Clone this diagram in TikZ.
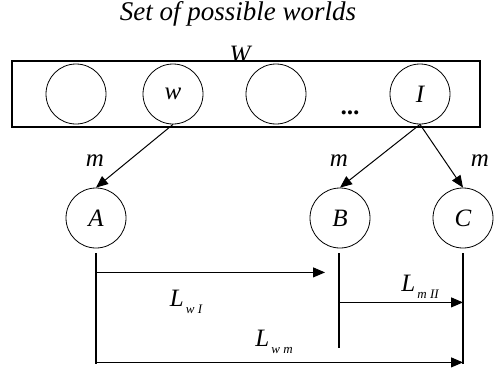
\documentclass[tikz,border=0pt]{standalone}
\usepackage{fontspec}
\setmainfont{Liberation Serif}
\usetikzlibrary{arrows.meta,positioning,calc}

\newcommand{\lsub}[1]{L{\fontsize{13}{15}\selectfont\raisebox{-7pt}{\,#1}}}

\begin{document}
\begin{tikzpicture}[x=1pt,y=-1pt,
  world/.style={shape=circle,draw,line width=0.8pt,minimum size=60pt,inner sep=0pt,font=\fontsize{25}{28}\selectfont\itshape},
  lbl/.style={font=\fontsize{25}{28}\selectfont\itshape,inner sep=1pt},
  link/.style={-{Triangle[length=12pt,width=10pt]},line width=1pt},
  bar/.style={line width=2pt}]
  \useasboundingbox (0,0) rectangle (502,369);
  % set of worlds
  \node[lbl,font=\fontsize{27}{30}\selectfont\itshape] (title) at (238,14) {Set of possible worlds};
  \node[lbl] (W) at (240,55) {W};
  \node[draw,fill=white,line width=2pt,minimum width=468pt,minimum height=66pt,inner sep=0pt] (box) at (246,94) {};
  \node[world] (w1) at (76,94) {};
  \node[world] (w2) at (173,94) {w};
  \node[world] (w3) at (276,94) {};
  \node[world] (w4) at (420,94) {I};
  \node[lbl] (dots) at (351,113) {\textbf{...}};
  % models
  \node[world] (A) at (96,218) {A};
  \node[world] (B) at (340,218) {B};
  \node[world] (C) at (463,218) {C};
  \draw[link] (w2.south) -- (A.north);
  \draw[link] (w4.south) -- (B.north);
  \draw[link] (w4.south) -- (C.north);
  \node[lbl] (mA) at (95,161) {m};
  \node[lbl] (mB) at (339,161) {m};
  \node[lbl] (mC) at (480,161) {m};
  % distances
  \coordinate (a1) at ($(A.south)+(0,5)$);
  \coordinate (a2) at ($(A.south)+(0,116)$);
  \coordinate (b1) at ($(B.south)+(-1,5)$);
  \coordinate (b2) at ($(B.south)+(-1,100)$);
  \coordinate (c1) at ($(C.south)+(0,5)$);
  \coordinate (c2) at ($(C.south)+(0,116)$);
  \draw[bar] (a1) -- (a2);
  \draw[bar] (b1) -- (b2);
  \draw[bar] (c1) -- (c2);
  \coordinate (p1) at ($(a1)+(0,19)$);
  \coordinate (q1) at ($(b1)+(-14,19)$);
  \draw[link] (p1) -- (q1);
  \coordinate (p2) at ($(b1)+(0,49)$);
  \coordinate (q2) at ($(c1)+(0,49)$);
  \draw[link] (p2) -- (q2);
  \coordinate (p3) at ($(a1)+(0,109)$);
  \coordinate (q3) at ($(c1)+(0,109)$);
  \draw[link] (p3) -- (q3);
  \node[lbl] (lwi) at (186,302) {\lsub{w I}};
  \node[lbl] (lmii) at (420,287) {\lsub{m II}};
  \node[lbl] (lwm) at (274,342) {\lsub{w m}};
\end{tikzpicture}
\end{document}
